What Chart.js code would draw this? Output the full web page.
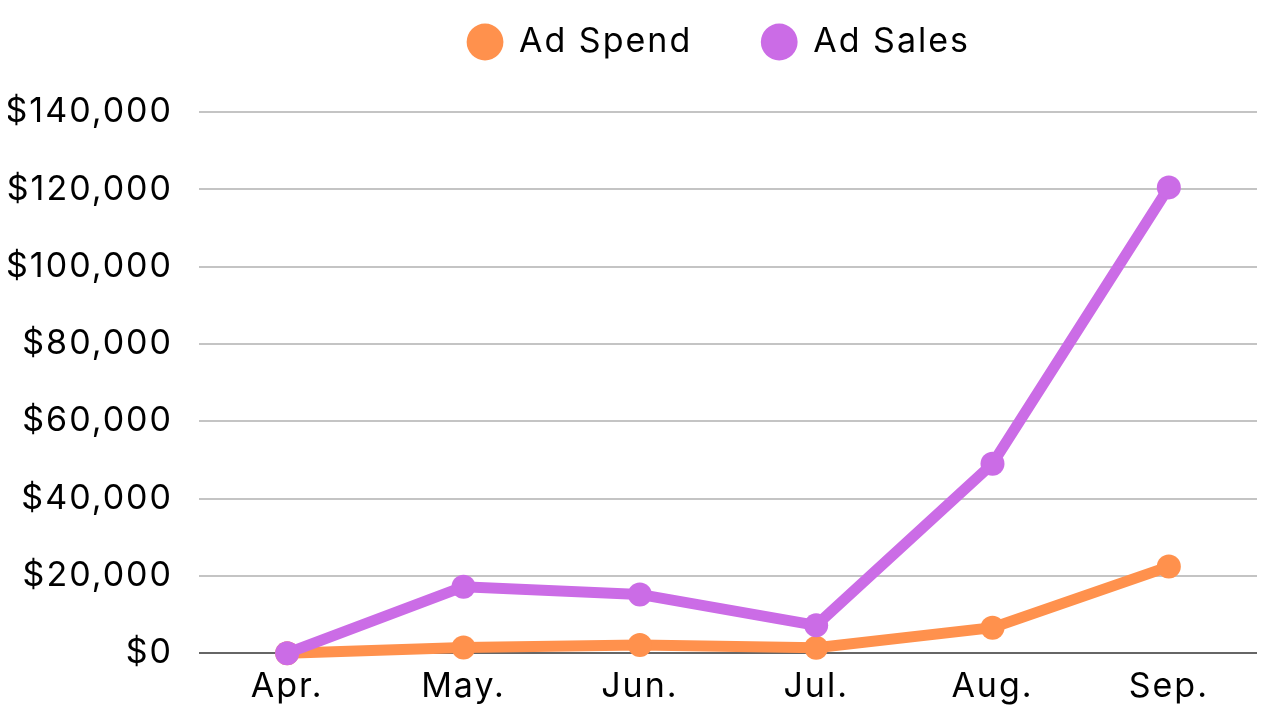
<!DOCTYPE html>
<html>
<head>
<meta charset="utf-8">
<script src="https://cdn.jsdelivr.net/npm/chart.js@4"></script>
<style>
    html, body { margin: 0; padding: 0; background: #fff; }
    #wrap { width: 1266px; height: 716px; }
</style>
</head>
<body>
<div id="wrap"><canvas id="chart"></canvas></div>
<script>
// Data
const MONTHS = ['Apr.', 'May.', 'Jun.', 'Jul.', 'Aug.', 'Sep.'];
const AD_SPEND = [0, 1500, 2100, 1400, 6600, 22400];
const AD_SALES = [0, 17200, 15200, 7200, 49000, 120500];
const Y_MAX = 140000;
const Y_STEP = 20000;

const FONT = 'Inter, "Noto Sans", sans-serif';
const FONT_SIZE = 34;
const LETTER_SPACING = '2px';

function formatDollars(v) {
    return '$' + v.toLocaleString('en-US');
}

// Wider text, taller legend box, legend centred over the plot
const layoutTweaks = {
    id: 'layoutTweaks',
    beforeLayout(chart) {
        chart.ctx.letterSpacing = LETTER_SPACING;
        const legend = chart.legend;
        if (legend && !legend._patched) {
            const fit = legend.fit;
            legend.fit = function() {
                fit.call(this);
                this.height = 157;
            };
            legend._patched = true;
        }
    },
    afterLayout(chart) {
        chart.legend.left = 181;
    },
    beforeDraw(chart) {
        chart.ctx.letterSpacing = LETTER_SPACING;
    }
};

const ctx = document.getElementById('chart').getContext('2d');
new Chart(ctx, {
    type: 'line',
    data: {
        labels: MONTHS,
        datasets: [
            {
                label: 'Ad Spend',
                data: AD_SPEND,
                borderColor: '#FF914D',
                backgroundColor: '#FF914D',
                borderWidth: 11,
                pointRadius: 12,
                pointBorderWidth: 0,
                tension: 0,
                clip: false,
                order: 1
            },
            {
                label: 'Ad Sales',
                data: AD_SALES,
                borderColor: '#CB6CE6',
                backgroundColor: '#CB6CE6',
                borderWidth: 11,
                pointRadius: 12,
                pointBorderWidth: 0,
                tension: 0,
                clip: false,
                order: 0
            }
        ]
    },
    plugins: [layoutTweaks],
    options: {
        responsive: true,
        maintainAspectRatio: false,
        animation: false,
        layout: {
            autoPadding: false,
            padding: { left: 8, right: 9, top: -45, bottom: -4 }
        },
        plugins: {
            legend: {
                position: 'top',
                labels: {
                    usePointStyle: true,
                    pointStyle: 'circle',
                    boxWidth: 34,
                    boxHeight: 26,
                    padding: 70,
                    color: '#000',
                    sort: (a, b) => a.datasetIndex - b.datasetIndex,
                    font: { family: FONT, size: FONT_SIZE }
                }
            },
            tooltip: { enabled: false }
        },
        scales: {
            x: {
                offset: true,
                grid: { display: false, drawTicks: false },
                border: { display: false },
                ticks: {
                    color: '#000',
                    padding: 13,
                    maxRotation: 0,
                    font: { family: FONT, size: FONT_SIZE }
                }
            },
            y: {
                min: 0,
                max: Y_MAX,
                afterFit: axis => { axis.width = 191; },
                border: { display: false },
                grid: {
                    drawTicks: false,
                    lineWidth: 2,
                    color: c => c.tick && c.tick.value === 0 ? '#666666' : '#c4c4c4'
                },
                ticks: {
                    stepSize: Y_STEP,
                    color: '#000',
                    padding: 26,
                    font: { family: FONT, size: FONT_SIZE },
                    callback: v => formatDollars(v)
                }
            }
        }
    }
});
</script>
</body>
</html>
